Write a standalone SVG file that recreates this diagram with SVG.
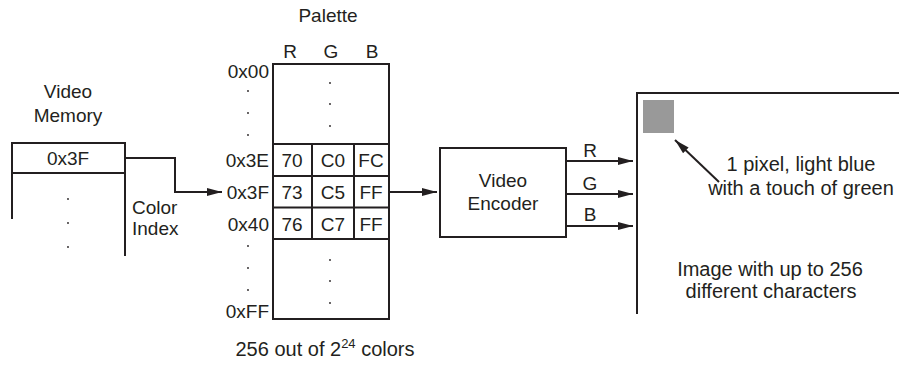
<svg xmlns="http://www.w3.org/2000/svg" width="901" height="372" viewBox="0 0 901 372">
<style>
text{font-family:"Liberation Sans",Arial,sans-serif;font-size:19px;fill:#231f20}
.c{text-anchor:middle}
.r{text-anchor:end}
.ln{fill:none;stroke:#231f20;stroke-width:2}
.dot{fill:#231f20}
</style>
<defs>
<marker id="ah" viewBox="0 0 15 8" refX="15" refY="4" markerWidth="15" markerHeight="8" markerUnits="userSpaceOnUse" orient="auto">
<path d="M0,0 L15,4 L0,8 Z" fill="#231f20"/>
</marker>
</defs>
<rect width="901" height="372" fill="#fff"/>

<g id="video-memory">
<text class="c" x="68" y="98">Video</text>
<text class="c" x="68" y="122">Memory</text>
<path class="ln" d="M12,219 V143 H125 V256 M12,173 H125"/>
<text class="c" x="68" y="165">0x3F</text>
<circle class="dot" cx="68" cy="199" r="0.9"/>
<circle class="dot" cx="68" cy="223" r="0.9"/>
<circle class="dot" cx="68" cy="247" r="0.9"/>
<text x="132" y="214">Color</text>
<text x="132" y="235">Index</text>
</g>

<g id="palette">
<text class="c" x="328" y="22">Palette</text>
<text class="c" x="290" y="58">R</text>
<text class="c" x="331" y="58">G</text>
<text class="c" x="372" y="58">B</text>
<rect class="ln" x="273" y="64" width="116" height="255"/>
<path class="ln" d="M273,144 H389 M273,176 H389 M273,207.5 H389 M273,239 H389 M312,144 V239 M354,144 V239"/>
<text class="r" x="269" y="78">0x00</text>
<circle class="dot" cx="248" cy="91" r="0.9"/>
<circle class="dot" cx="248" cy="113" r="0.9"/>
<circle class="dot" cx="248" cy="135" r="0.9"/>
<circle class="dot" cx="330" cy="83" r="0.9"/>
<circle class="dot" cx="330" cy="104" r="0.9"/>
<circle class="dot" cx="330" cy="126" r="0.9"/>
<text class="r" x="269" y="167">0x3E</text>
<text class="r" x="269" y="199">0x3F</text>
<text class="r" x="269" y="231">0x40</text>
<text class="c" x="292" y="167">70</text>
<text class="c" x="333" y="167">C0</text>
<text class="c" x="371" y="167">FC</text>
<text class="c" x="292" y="199">73</text>
<text class="c" x="333" y="199">C5</text>
<text class="c" x="371" y="199">FF</text>
<text class="c" x="292" y="231">76</text>
<text class="c" x="333" y="231">C7</text>
<text class="c" x="371" y="231">FF</text>
<circle class="dot" cx="248" cy="246" r="0.9"/>
<circle class="dot" cx="248" cy="268" r="0.9"/>
<circle class="dot" cx="248" cy="290" r="0.9"/>
<circle class="dot" cx="330" cy="260" r="0.9"/>
<circle class="dot" cx="330" cy="281" r="0.9"/>
<circle class="dot" cx="330" cy="303" r="0.9"/>
<text class="r" x="269" y="318">0xFF</text>
<text class="c" x="325" y="356" style="font-size:20px">256 out of 2<tspan dy="-8" style="font-size:13px">24</tspan><tspan dy="8"> colors</tspan></text>
</g>

<g id="video-encoder">
<rect class="ln" x="440" y="148" width="126" height="89"/>
<text class="c" x="503" y="187">Video</text>
<text class="c" x="503" y="210">Encoder</text>
</g>

<g id="screen">
<path class="ln" d="M637,314 V93 H899"/>
<rect x="643" y="100" width="31" height="33" fill="#999"/>
<text class="c" x="801" y="171" style="font-size:20px">1 pixel, light blue</text>
<text class="c" x="801" y="195" style="font-size:20px">with a touch of green</text>
<text class="c" x="770" y="276" style="font-size:20px">Image with up to 256</text>
<text class="c" x="771" y="298" style="font-size:20px">different characters</text>
</g>

<g id="connectors">
<path class="ln" d="M125,158 H175 V192 H222" marker-end="url(#ah)"/>
<path class="ln" d="M389,192 H437" marker-end="url(#ah)"/>
<path class="ln" d="M566,161 H633" marker-end="url(#ah)"/>
<path class="ln" d="M566,194 H633" marker-end="url(#ah)"/>
<path class="ln" d="M566,226 H633" marker-end="url(#ah)"/>
<path class="ln" d="M719,182 L675,140" marker-end="url(#ah)"/>
<text class="c" x="590" y="157">R</text>
<text class="c" x="590" y="190">G</text>
<text class="c" x="590" y="221">B</text>
</g>
</svg>
